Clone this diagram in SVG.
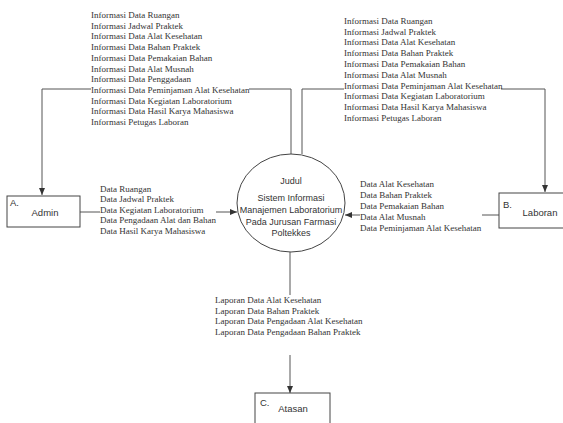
<svg xmlns="http://www.w3.org/2000/svg" width="563" height="423" viewBox="0 0 563 423">
<defs>
<marker id="ah" markerWidth="8" markerHeight="6" refX="7" refY="3" orient="auto" markerUnits="userSpaceOnUse">
<path d="M0,0 L7,3 L0,6 z" fill="#333"/>
</marker>
<style>
.lbl{font-family:"Liberation Serif","Times New Roman",serif;font-size:9px;fill:#333}
.nd{font-family:"Liberation Sans",Arial,sans-serif;font-size:9px;fill:#333}
.nm{font-family:"Liberation Sans",Arial,sans-serif;font-size:9.5px;fill:#333}
.ln{fill:none;stroke:#555;stroke-width:1}
.bx{fill:#fff;stroke:#444;stroke-width:1}
</style>
</defs>
<rect width="563" height="423" fill="#fff"/>
<g id="connectors">
<path class="ln" d="M91,89 H42 V195" marker-end="url(#ah)"/>
<path class="ln" d="M249,89 H291 V154"/>
<path class="ln" d="M344,89 H302 V154"/>
<path class="ln" d="M501,89 H545 V192" marker-end="url(#ah)"/>
<path class="ln" d="M80,212 H100"/>
<path class="ln" d="M216,212 H237" marker-end="url(#ah)"/>
<path class="ln" d="M499,215 H482"/>
<path class="ln" d="M360,215 H345" marker-end="url(#ah)"/>
<path class="ln" d="M290,252 V295"/>
<path class="ln" d="M290,355 V393" marker-end="url(#ah)"/>
</g>
<g id="labels-top-left" class="lbl">
<text x="91" y="18">Informasi Data Ruangan</text>
<text x="91" y="28.7">Informasi Jadwal Praktek</text>
<text x="91" y="39.4">Informasi Data Alat Kesehatan</text>
<text x="91" y="50.1">Informasi Data Bahan Praktek</text>
<text x="91" y="60.8">Informasi Data Pemakaian Bahan</text>
<text x="91" y="71.5">Informasi Data Alat Musnah</text>
<text x="91" y="82.2">Informasi Data Penggadaan</text>
<text x="91" y="92.9">Informasi Data Peminjaman Alat Kesehatan</text>
<text x="91" y="103.6">Informasi Data Kegiatan Laboratorium</text>
<text x="91" y="114.3">Informasi Data Hasil Karya Mahasiswa</text>
<text x="91" y="125">Informasi Petugas Laboran</text>
</g>
<g id="labels-top-right" class="lbl">
<text x="344" y="23.7">Informasi Data Ruangan</text>
<text x="344" y="34.5">Informasi Jadwal Praktek</text>
<text x="344" y="45.3">Informasi Data Alat Kesehatan</text>
<text x="344" y="56.1">Informasi Data Bahan Praktek</text>
<text x="344" y="66.9">Informasi Data Pemakaian Bahan</text>
<text x="344" y="77.7">Informasi Data Alat Musnah</text>
<text x="344" y="88.5">Informasi Data Peminjaman Alat Kesehatan</text>
<text x="344" y="99.3">Informasi Data Kegiatan Laboratorium</text>
<text x="344" y="110.1">Informasi Data Hasil Karya Mahasiswa</text>
<text x="344" y="120.9">Informasi Petugas Laboran</text>
</g>
<g id="labels-admin" class="lbl">
<text x="100" y="191.5">Data Ruangan</text>
<text x="100" y="202">Data Jadwal Praktek</text>
<text x="100" y="212.5">Data Kegiatan Laboratorium</text>
<text x="100" y="223">Data Pengadaan Alat dan Bahan</text>
<text x="100" y="233.5">Data Hasil Karya Mahasiswa</text>
</g>
<g id="labels-laboran" class="lbl">
<text x="360" y="186.5">Data Alat Kesehatan</text>
<text x="360" y="197.5">Data Bahan Praktek</text>
<text x="360" y="208.5">Data Pemakaian Bahan</text>
<text x="360" y="219.5">Data Alat Musnah</text>
<text x="360" y="230.5">Data Peminjaman Alat Kesehatan</text>
</g>
<g id="labels-atasan" class="lbl">
<text x="215" y="303">Laporan Data Alat Kesehatan</text>
<text x="215" y="313.7">Laporan Data Bahan Praktek</text>
<text x="215" y="324.4">Laporan Data Pengadaan Alat Kesehatan</text>
<text x="215" y="335.1">Laporan Data Pengadaan Bahan Praktek</text>
</g>
<g id="process">
<ellipse class="bx" cx="291" cy="203" rx="54" ry="49"/>
<text class="nd" x="291" y="184" text-anchor="middle">Judul</text>
<text class="nd" x="291" y="201" text-anchor="middle">Sistem Informasi</text>
<text class="nd" x="291" y="213" text-anchor="middle">Manajemen Laboratorium</text>
<text class="nd" x="291" y="224.5" text-anchor="middle">Pada Jurusan Farmasi</text>
<text class="nd" x="291" y="236" text-anchor="middle">Poltekkes</text>
</g>
<g id="admin">
<rect class="bx" x="7" y="196" width="73" height="31"/>
<text class="nm" x="10" y="206">A.</text>
<text class="nm" x="45" y="216" text-anchor="middle">Admin</text>
</g>
<g id="laboran">
<rect class="bx" x="499" y="193" width="70" height="35"/>
<text class="nm" x="503" y="208">B.</text>
<text class="nm" x="540" y="216" text-anchor="middle">Laboran</text>
</g>
<g id="atasan">
<rect class="bx" x="255" y="393" width="75" height="35"/>
<text class="nm" x="260" y="406">C.</text>
<text class="nm" x="293" y="412" text-anchor="middle">Atasan</text>
</g>
</svg>
